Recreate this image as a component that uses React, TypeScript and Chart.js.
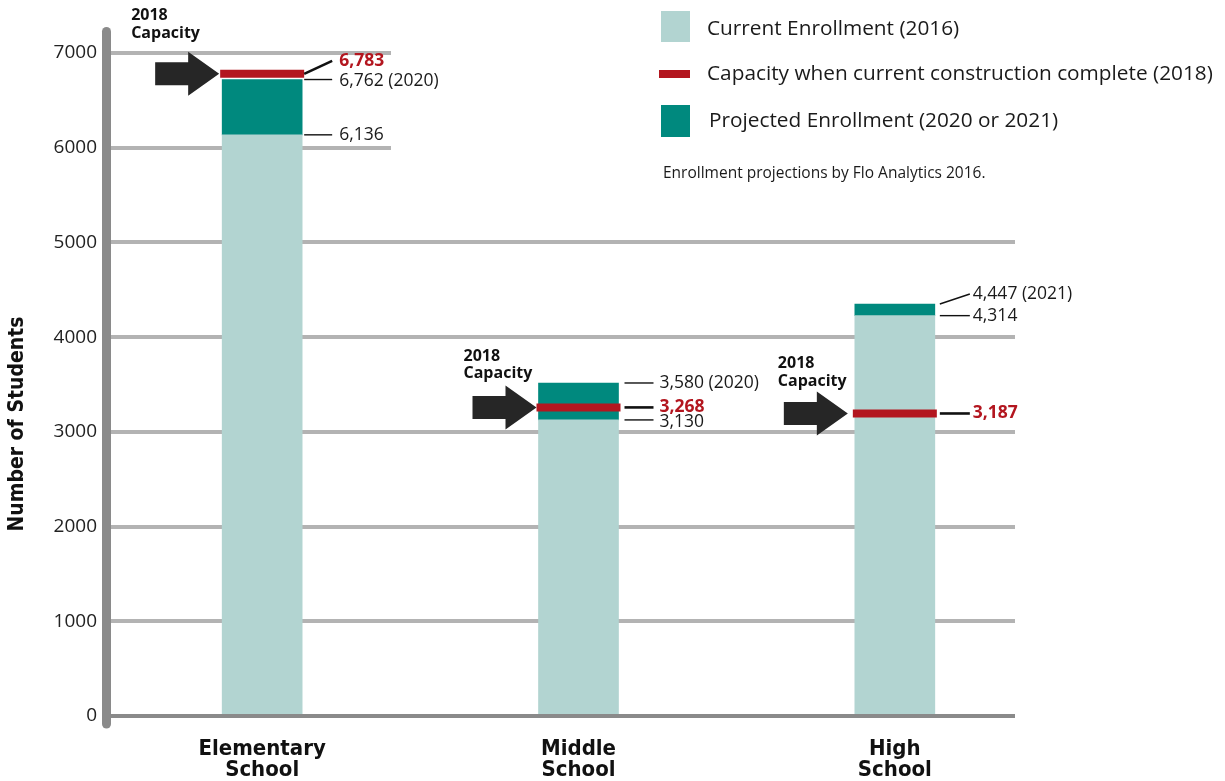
import React, { useEffect, useRef } from 'react';
import { Chart, registerables } from 'chart.js';

Chart.register(...registerables);

// ---- data ----
const schools: string[][] = [['Elementary', 'School'], ['Middle', 'School'], ['High', 'School']];
const currentEnrollment = [6136, 3126, 4227];
const projectedEnrollment = [6720, 3516, 4350];
const capacity2018 = [6780, 3258, 3194];
const currentLabels = ['6,136', '3,130', '4,314'];
const projectedLabels = ['6,762 (2020)', '3,580 (2020)', '4,447 (2021)'];
const capacityLabels = ['6,783', '3,268', '3,187'];
const legendLabels = [
  'Current Enrollment (2016)',
  'Capacity when current construction complete (2018)',
  'Projected Enrollment (2020 or 2021)',
];
const sourceNote = 'Enrollment projections by Flo Analytics 2016.';
const axisTitle = 'Number of Students';
const calloutLines = ['2018', 'Capacity'];

// ---- styles ----
const LIGHT = '#b2d4d1';
const TEAL = '#00897e';
const RED = '#b3161f';
const ARROW = '#262626';
const TEXT = '#1a1a1a';
const GRID = '#b3b3b3';
const AXIS = '#8a8a8a';
const FONT = '"Open Sans", "Noto Sans", sans-serif';
const COND = '"Liberation Sans Narrow", "DejaVu Sans Condensed", "Open Sans", sans-serif';

// per-school callout geometry (pixel offsets, style only)
const layout = [
  { gap: 2, len: 28, textDx: 37, capSlant: -13, projSlant: 0, tipDx: -3, tDx: -88, t1: -58, t2: -40 },
  { gap: 6, len: 29, textDx: 41, capSlant: 0, projSlant: 0, tipDx: -2, tDx: -73, t1: -51, t2: -34 },
  { gap: 5, len: 30, textDx: 38, capSlant: 0, projSlant: -10, tipDx: -7, tDx: -70, t1: -50, t2: -32 },
];

const drawArrow = (ctx: CanvasRenderingContext2D, tipX: number, y: number) => {
  const headLen = 31, bodyLen = 33, headH = 22, bodyH = 11.5;
  ctx.beginPath();
  ctx.moveTo(tipX, y);
  ctx.lineTo(tipX - headLen, y - headH);
  ctx.lineTo(tipX - headLen, y - bodyH);
  ctx.lineTo(tipX - headLen - bodyLen, y - bodyH);
  ctx.lineTo(tipX - headLen - bodyLen, y + bodyH);
  ctx.lineTo(tipX - headLen, y + bodyH);
  ctx.lineTo(tipX - headLen, y + headH);
  ctx.closePath();
  ctx.fillStyle = ARROW;
  ctx.fill();
};

const annotationPlugin = {
  id: 'annotations',
  beforeDatasetsDraw(chart: any) {
    const { ctx } = chart;
    const y = chart.scales.y;
    ctx.save();
    ctx.strokeStyle = GRID;
    ctx.lineWidth = 4;
    y.ticks.forEach((t: any) => {
      if (t.value <= 0) return;
      const py = Math.round(y.getPixelForValue(t.value));
      ctx.beginPath();
      ctx.moveTo(111, py);
      ctx.lineTo(py < 170 ? 391 : 1015, py);
      ctx.stroke();
    });
    ctx.restore();
  },
  afterDatasetsDraw(chart: any) {
    const { ctx } = chart;
    const y = chart.scales.y;
    const y0 = y.getPixelForValue(0);
    ctx.save();
    ctx.strokeStyle = AXIS;
    ctx.lineWidth = 4;
    ctx.beginPath();
    ctx.moveTo(104, y0);
    ctx.lineTo(1015, y0);
    ctx.stroke();
    ctx.lineWidth = 9;
    ctx.lineCap = 'round';
    ctx.beginPath();
    ctx.moveTo(106.5, 31.5);
    ctx.lineTo(106.5, y0 + 8);
    ctx.stroke();
    ctx.restore();
  },
  afterDraw(chart: any) {
    const { ctx } = chart;
    const y = chart.scales.y;
    const barMeta = chart.getDatasetMeta(1);
    ctx.save();
    schools.forEach((_, i) => {
      const bar = barMeta.data[i];
      const left = bar.x - bar.width / 2;
      const right = bar.x + bar.width / 2;
      const L = layout[i];
      const capY = y.getPixelForValue(capacity2018[i]);
      const projY = y.getPixelForValue(projectedEnrollment[i]);
      const curY = y.getPixelForValue(currentEnrollment[i]);
      const x1 = right + L.gap;
      const x2 = x1 + L.len;
      const tx = right + L.textDx;
      ctx.strokeStyle = '#111';
      // current
      ctx.lineWidth = 1.4;
      ctx.beginPath(); ctx.moveTo(x1, curY); ctx.lineTo(x2, curY); ctx.stroke();
      // projected
      ctx.beginPath(); ctx.moveTo(x1, projY); ctx.lineTo(x2, projY + L.projSlant); ctx.stroke();
      // capacity
      ctx.lineWidth = 2.6;
      ctx.beginPath(); ctx.moveTo(x1, capY); ctx.lineTo(x2, capY + L.capSlant); ctx.stroke();

      ctx.textBaseline = 'middle';
      ctx.textAlign = 'left';
      ctx.fillStyle = TEXT;
      ctx.font = `17.5px ${FONT}`;
      ctx.fillText(currentLabels[i], tx, curY + (i === 1 ? 2 : 0));
      ctx.fillText(projectedLabels[i], tx, projY + L.projSlant + (i === 0 ? 1 : 0));
      ctx.fillStyle = RED;
      ctx.font = `bold 17.5px ${FONT}`;
      ctx.fillText(capacityLabels[i], tx, capY + L.capSlant);

      // arrow + callout
      const tipX = left + L.tipDx;
      drawArrow(ctx, tipX, capY);
      ctx.fillStyle = '#111';
      ctx.font = `bold 16px ${FONT}`;
      ctx.fillText(calloutLines[0], tipX + L.tDx, capY + L.t1);
      ctx.fillText(calloutLines[1], tipX + L.tDx, capY + L.t2);
    });

    // legend
    ctx.fillStyle = LIGHT;
    ctx.fillRect(661, 11, 29, 31);
    ctx.fillStyle = RED;
    ctx.fillRect(659, 70, 31, 8);
    ctx.fillStyle = TEAL;
    ctx.fillRect(661, 105, 29, 32);
    ctx.fillStyle = TEXT;
    ctx.font = `20.8px ${FONT}`;
    ctx.textBaseline = 'middle';
    ctx.fillText(legendLabels[0], 707, 29);
    ctx.fillText(legendLabels[1], 707, 74);
    ctx.fillText(legendLabels[2], 709, 121);
    ctx.font = `15.5px ${FONT}`;
    ctx.fillText(sourceNote, 663, 174);

    // y title
    ctx.save();
    ctx.translate(18, 424);
    ctx.rotate(-Math.PI / 2);
    ctx.textAlign = 'center';
    ctx.font = `bold 21px ${COND}`;
    ctx.fillStyle = '#111';
    ctx.fillText(axisTitle, 0, 0);
    ctx.restore();
    ctx.restore();
  },
};

export default function App() {
  const ref = useRef<HTMLCanvasElement | null>(null);
  useEffect(() => {
    if (!ref.current) return;
    const projectedPart = projectedEnrollment.map((v, i) => v - currentEnrollment[i]);
    const chart = new Chart(ref.current, {
      type: 'bar',
      data: {
        labels: schools,
        datasets: [
          {
            type: 'line',
            label: legendLabels[1],
            data: capacity2018,
            stack: 'capacity',
            showLine: false,
            pointStyle: 'line',
            pointRadius: 42,
            pointBorderWidth: 8,
            pointBorderColor: RED,
            pointBackgroundColor: RED,
            borderColor: RED,
          } as any,
          {
            label: legendLabels[0],
            data: currentEnrollment,
            backgroundColor: LIGHT,
            barThickness: 80,
            stack: 'enrollment',
          },
          {
            label: legendLabels[2],
            data: projectedPart,
            backgroundColor: TEAL,
            barThickness: 80,
            stack: 'enrollment',
          },
        ],
      },
      options: {
        responsive: false,
        animation: false,
        events: [],
        layout: { padding: { left: 0, right: 172, top: 53, bottom: 0 } },
        plugins: { legend: { display: false }, tooltip: { enabled: false } },
        scales: {
          x: {
            stacked: true,
            grid: { display: false, drawTicks: false },
            border: { display: false },
            ticks: {
              color: '#111',
              font: { family: COND, size: 22, weight: 'bold', lineHeight: 0.95 },
              padding: 23,
              maxRotation: 0,
              autoSkip: false,
            },
            afterFit: (s: any) => { s.height = 65; },
          },
          y: {
            stacked: true,
            min: 0,
            max: 7000,
            grid: { display: false, drawTicks: false },
            border: { display: false },
            ticks: {
              stepSize: 1000,
              color: '#222',
              font: { family: FONT, size: 19 },
              padding: 7,
              callback: (v: any) => String(v),
            },
            afterFit: (s: any) => { s.width = 104; },
          },
        },
      },
      plugins: [annotationPlugin],
    });
    return () => chart.destroy();
  }, []);
  return (
    <div style={{ position: 'fixed', left: 0, top: 0, width: 1225, height: 781, background: '#fff' }}>
      <canvas ref={ref} width={1225} height={781} style={{ display: 'block' }} />
    </div>
  );
}
